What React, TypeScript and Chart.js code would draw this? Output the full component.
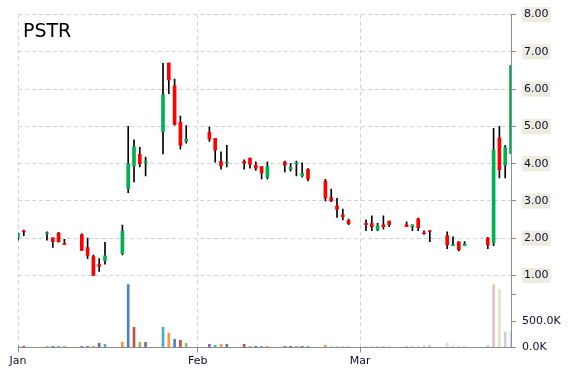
import React, { useEffect, useRef } from 'react';
import { Chart, registerables } from 'chart.js';

Chart.register(...registerables);

const ticker = 'PSTR';
const monthLabels = ['Jan', 'Feb', 'Mar'];
const monthStartDays = [0, 31, 59];
const lastDay = 85;
const priceTicks = [1, 2, 3, 4, 5, 6, 7, 8];
const volumeTicks = [0, 500000, 1000000];
const volumeTickLabels = ['0.0K', '500.0K', ''];

// day index counted from Jan 1
const days = [0, 1, 5, 6, 7, 8, 11, 12, 13, 14, 15, 18, 19, 20, 21, 22, 25, 26, 27, 28, 29, 33, 34, 35, 36, 39, 40, 41, 42, 43, 46, 47, 48, 49, 50, 53, 54, 55, 56, 57, 60, 61, 62, 63, 64, 67, 68, 69, 70, 71, 74, 75, 76, 77, 81, 82, 83, 84, 85];
const opens = [2.02, 2.20, 2.12, 2.01, 2.14, 1.86, 2.10, 1.75, 1.51, 1.29, 1.40, 1.59, 3.33, 3.93, 4.25, 4.02, 4.86, 6.70, 6.09, 5.11, 4.60, 4.84, 4.68, 4.06, 4.01, 4.06, 4.15, 3.96, 3.92, 3.64, 4.04, 3.85, 3.99, 3.67, 3.85, 3.53, 3.09, 2.87, 2.63, 2.47, 2.40, 2.39, 2.22, 2.36, 2.46, 2.36, 2.31, 2.52, 2.14, 2.20, 2.07, 1.80, 1.90, 1.80, 2.00, 1.88, 4.69, 3.96, 4.27];
const highs = [2.14, 2.22, 2.17, 2.01, 2.16, 1.97, 2.12, 2.00, 1.55, 1.45, 1.89, 2.35, 5.00, 4.64, 4.44, 4.18, 6.69, 6.70, 6.27, 5.28, 5.02, 4.98, 4.68, 4.32, 4.49, 4.10, 4.15, 4.05, 3.92, 4.05, 4.07, 4.01, 4.07, 4.02, 3.87, 3.58, 3.32, 3.07, 2.78, 2.51, 2.49, 2.60, 2.40, 2.60, 2.46, 2.44, 2.36, 2.54, 2.20, 2.20, 2.17, 2.04, 1.90, 1.91, 2.02, 4.95, 5.00, 4.49, 6.63];
const lows = [1.95, 2.07, 1.95, 1.75, 1.90, 1.83, 1.67, 1.45, 1.00, 1.11, 1.30, 1.55, 3.22, 3.51, 3.91, 3.67, 4.26, 5.88, 5.03, 4.39, 4.55, 4.60, 4.04, 3.85, 3.91, 3.85, 3.88, 3.82, 3.59, 3.59, 3.78, 3.80, 3.67, 3.64, 3.54, 3.00, 2.98, 2.56, 2.49, 2.36, 2.20, 2.20, 2.20, 2.24, 2.31, 2.31, 2.20, 2.20, 2.10, 1.91, 1.72, 1.80, 1.66, 1.80, 1.72, 1.80, 3.62, 3.62, 4.27];
const closes = [2.13, 2.17, 2.14, 1.91, 1.90, 1.83, 1.67, 1.54, 1.00, 1.24, 1.53, 2.20, 4.00, 4.46, 4.00, 4.06, 5.85, 6.25, 5.05, 4.49, 4.65, 4.66, 4.36, 3.94, 4.04, 4.01, 3.98, 3.88, 3.75, 3.93, 3.96, 3.90, 4.02, 3.74, 3.59, 3.08, 3.00, 2.77, 2.58, 2.39, 2.36, 2.31, 2.34, 2.31, 2.36, 2.31, 2.36, 2.28, 2.12, 2.18, 1.82, 1.82, 1.69, 1.85, 1.82, 4.37, 3.84, 4.43, 6.63];
const volumes = [25000, 25000, 20000, 20000, 20000, 20000, 20000, 20000, 20000, 80000, 62000, 100000, 1190000, 382000, 100000, 100000, 382000, 275000, 156000, 137000, 81000, 62000, 43000, 62000, 62000, 62000, 22000, 22000, 22000, 22000, 22000, 22000, 22000, 22000, 22000, 43000, 22000, 22000, 22000, 22000, 22000, 22000, 22000, 22000, 22000, 22000, 22000, 22000, 30000, 43000, 88000, 22000, 22000, 22000, 43000, 1190000, 1096000, 293000, 306000];

const UP = '#00B050';
const DOWN = '#FF0000';
const WICK = '#000000';
const VOL_COLORS = ['#4F81BD', '#C0504D', '#9BBB59', '#8064A2', '#4BACC6', '#F79646'];
const VOL_FADED = ['rgba(79,129,189,0.35)', 'rgba(192,80,77,0.35)', 'rgba(155,187,89,0.35)', 'rgba(128,100,162,0.35)', 'rgba(75,172,198,0.35)', 'rgba(247,150,70,0.35)'];
const FADE_FROM = 36;
const TEXT = '#0d0d30';
const GRID = '#d2d2d2';
const AXIS = '#8c8c8c';

export default function App() {
  const ref = useRef<HTMLCanvasElement | null>(null);

  useEffect(() => {
    if (!ref.current) return;
    Chart.defaults.font.family = "'DejaVu Sans', sans-serif";
    Chart.defaults.font.size = 11;
    const chart = new Chart(ref.current, {
      type: 'bar',
      data: {
        datasets: [
          {
            label: 'body',
            data: days.map((d, i) => ({ x: d, y: [opens[i], closes[i]] })) as any,
            backgroundColor: days.map((_, i) => (closes[i] >= opens[i] ? UP : DOWN)),
            barThickness: 3,
            minBarLength: 1,
            grouped: false,
            borderWidth: 0,
            xAxisID: 'x',
            yAxisID: 'y',
          },
          {
            label: 'wick',
            data: days.map((d, i) => ({ x: d, y: [lows[i], highs[i]] })) as any,
            backgroundColor: WICK,
            barThickness: 1,
            grouped: false,
            borderWidth: 0,
            xAxisID: 'x',
            yAxisID: 'y',
          },
          {
            label: 'volume',
            data: days.map((d, i) => ({ x: d, y: volumes[i] })) as any,
            backgroundColor: days.map((_, i) => (i >= FADE_FROM ? VOL_FADED[i % 6] : VOL_COLORS[i % 6])),
            barThickness: 2,
            grouped: false,
            borderWidth: 0,
            xAxisID: 'x',
            yAxisID: 'yv',
          },
        ],
      },
      options: {
        animation: false,
        responsive: false,
        maintainAspectRatio: false,
        layout: { padding: { left: 18, top: 12.5, right: 0, bottom: 0 } },
        plugins: { legend: { display: false }, tooltip: { enabled: false }, title: { display: false } },
        scales: {
          x: {
            type: 'linear',
            min: 0,
            max: lastDay,
            offset: false,
            afterBuildTicks: (s: any) => {
              s.ticks = monthStartDays.map((v) => ({ value: v }));
            },
            afterFit: (s: any) => {
              s.height = 22.5;
            },
            grid: { offset: false, color: GRID, tickColor: AXIS, tickLength: 5, tickBorderDash: [] },
            border: { display: true, color: AXIS, width: 1, dash: [4, 3] },
            ticks: {
              color: TEXT,
              padding: 2,
              maxRotation: 0,
              autoSkip: false,
              callback: (v: any) => monthLabels[monthStartDays.indexOf(Number(v))] ?? '',
            },
          },
          yv: {
            type: 'linear',
            position: 'right',
            weight: 0,
            min: 0,
            max: 6297000,
            afterBuildTicks: (s: any) => {
              s.ticks = volumeTicks.map((v) => ({ value: v }));
            },
            afterFit: (s: any) => {
              // zero-width axis sharing the price axis column; let its labels overflow
              s.width = 0;
              s._computeLabelArea = () => undefined;
            },
            grid: { drawOnChartArea: false, tickColor: AXIS, tickLength: 5, tickBorderDash: [] },
            border: { display: false },
            ticks: {
              color: TEXT,
              padding: 6,
              autoSkip: false,
              callback: (v: any) => volumeTickLabels[volumeTicks.indexOf(Number(v))] ?? '',
            },
          },
          y: {
            type: 'linear',
            position: 'right',
            weight: 1,
            min: -0.933,
            max: 8,
            afterBuildTicks: (s: any) => {
              s.ticks = priceTicks.map((v) => ({ value: v }));
            },
            afterFit: (s: any) => {
              s.width = 59;
            },
            grid: { color: GRID, tickColor: AXIS, tickLength: 5, tickBorderDash: [] },
            border: { display: true, color: AXIS, width: 1, dash: [4, 3] },
            ticks: {
              color: TEXT,
              padding: 8,
              showLabelBackdrop: true,
              backdropColor: '#EEECE1',
              backdropPadding: { top: 1, bottom: 1, left: 2, right: 2 },
              callback: (v: any) => Number(v).toFixed(2),
            },
          },
        },
      } as any,
    });
    return () => chart.destroy();
  }, []);

  return (
    <div style={{ position: 'absolute', left: 0, top: 0, width: 570, height: 370, background: '#fff' }}>
      <canvas ref={ref} width={570} height={370} style={{ display: 'block', width: 570, height: 370 }} />
      <div
        style={{
          position: 'absolute',
          left: 23,
          top: 19,
          font: "19px 'DejaVu Sans', sans-serif",
          lineHeight: '22px',
          color: '#000',
          pointerEvents: 'none',
        }}
      >
        {ticker}
      </div>
    </div>
  );
}
